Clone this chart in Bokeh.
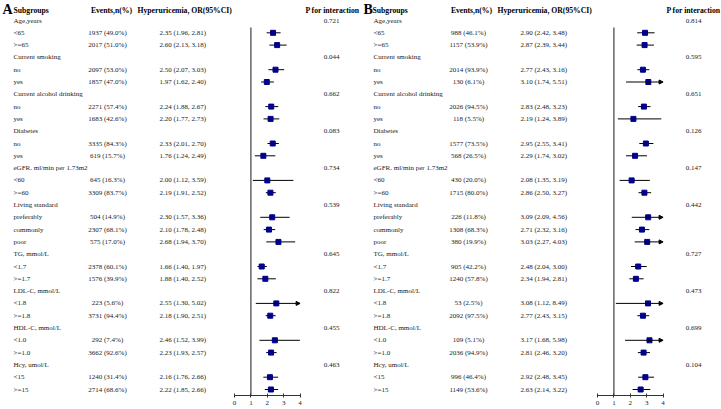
from bokeh.plotting import figure
from bokeh.layouts import row
from bokeh.models import (ColumnDataSource, Range1d, LinearAxis, FixedTicker,
                          Arrow, NormalHead)
from bokeh.core.properties import value
from bokeh.embed import file_html
from bokeh.resources import INLINE

# ---------------- data ----------------
categories = ["Age,years", "Current smoking", "Current alcohol drinking", "Diabetes",
              "eGFR. ml/min per 1.73m2", "Living standard", "TG, mmol/L",
              "LDL-C, mmol/L", "HDL-C, mmol/L", "Hcy, umol/L"]
levels = [["<65", ">=65"], ["no", "yes"], ["no", "yes"], ["no", "yes"],
          ["<60", ">=60"], ["preferably", "commonly", "poor"], ["<1.7", ">=1.7"],
          ["<1.8", ">=1.8"], ["<1.0", ">=1.0"], ["<15", ">=15"]]

A_n = [1937, 2017, 2097, 1857, 2271, 1683, 3335, 619, 645, 3309, 504, 2307, 575,
       2378, 1576, 223, 3731, 292, 3662, 1240, 2714]
A_pct = [49.0, 51.0, 53.0, 47.0, 57.4, 42.6, 84.3, 15.7, 16.3, 83.7, 14.9, 68.1, 17.0,
         60.1, 39.9, 5.6, 94.4, 7.4, 92.6, 31.4, 68.6]
A_or = [2.35, 2.60, 2.50, 1.97, 2.24, 2.20, 2.33, 1.76, 2.00, 2.19, 2.30, 2.10, 2.68,
        1.66, 1.88, 2.55, 2.18, 2.46, 2.23, 2.16, 2.22]
A_lo = [1.96, 2.13, 2.07, 1.62, 1.88, 1.77, 2.01, 1.24, 1.12, 1.91, 1.57, 1.78, 1.94,
        1.40, 1.40, 1.30, 1.90, 1.52, 1.93, 1.76, 1.85]
A_hi = [2.81, 3.18, 3.03, 2.40, 2.67, 2.73, 2.70, 2.49, 3.59, 2.52, 3.36, 2.48, 3.70,
        1.97, 2.52, 5.02, 2.51, 3.99, 2.57, 2.66, 2.66]
A_p = ["0.721", "0.044", "0.662", "0.083", "0.734", "0.539", "0.645", "0.822", "0.455", "0.463"]

B_n = [988, 1157, 2014, 130, 2026, 118, 1577, 568, 430, 1715, 226, 1308, 380,
       905, 1240, 53, 2092, 109, 2036, 996, 1149]
B_pct = [46.1, 53.9, 93.9, 6.1, 94.5, 5.5, 73.5, 26.5, 20.0, 80.0, 11.8, 68.3, 19.9,
         42.2, 57.8, 2.5, 97.5, 5.1, 94.9, 46.4, 53.6]
B_or = [2.90, 2.87, 2.77, 3.10, 2.83, 2.19, 2.95, 2.29, 2.08, 2.86, 3.09, 2.71, 3.03,
        2.48, 2.34, 3.08, 2.77, 3.17, 2.81, 2.92, 2.63]
B_lo = [2.42, 2.39, 2.43, 1.74, 2.48, 1.24, 2.55, 1.74, 1.35, 2.50, 2.09, 2.32, 2.27,
        2.04, 1.94, 1.12, 2.43, 1.68, 2.46, 2.48, 2.14]
B_hi = [3.48, 3.44, 3.16, 5.51, 3.23, 3.89, 3.41, 3.02, 3.19, 3.27, 4.56, 3.16, 4.03,
        3.00, 2.81, 8.49, 3.15, 5.98, 3.20, 3.45, 3.22]
B_p = ["0.814", "0.595", "0.651", "0.126", "0.147", "0.442", "0.727", "0.473", "0.699", "0.104"]

headers = ["Subgroups", "Events,n(%)", "Hyperuricemia, OR(95%CI)", "P for interaction"]
axis_ticks = [0, 1, 2, 3, 4]
AXIS_MAX = 4

FONT = value("Liberation Serif")
TXT = "#1a1a1a"

H = 409
ROW0 = 20.0      # pixel y of first row
SP = 12.3        # pixel spacing of rows
BOTTOM_BORDER = 14


def make_panel(letter, n, pct, orv, lo, hi, pvals, width, pos):
    y_top = (0 - ROW0) / SP
    y_bot = (H - BOTTOM_BORDER - ROW0) / SP
    scale = 16.4
    p = figure(width=width, height=H, output_backend="svg", toolbar_location=None,
               x_axis_type=None, y_axis_type=None,
               x_range=Range1d(0, width), y_range=Range1d(y_bot, y_top),
               min_border_left=0, min_border_right=0, min_border_top=0,
               min_border_bottom=BOTTOM_BORDER, outline_line_color=None,
               background_fill_color="white", border_fill_color="white")
    p.grid.visible = False
    x0 = pos["or0"]
    p.extra_x_ranges = {"or": Range1d(-x0 / scale, (width - x0) / scale)}

    lab, laby = [], []
    ev, evy = [], []
    ort, ory = [], []
    pv, pvy = [], []
    fx, fy, flo, fhi = [], [], [], []
    ax0, ax1, ay = [], [], []
    r = 0
    k = 0
    for ci, cat in enumerate(categories):
        lab.append(cat); laby.append(r)
        pv.append(pvals[ci]); pvy.append(r)
        r += 1
        for lv in levels[ci]:
            lab.append(lv); laby.append(r)
            ev.append(f"{n[k]} ({pct[k]:.1f}%)"); evy.append(r)
            ort.append(f"{orv[k]:.2f} ({lo[k]:.2f}, {hi[k]:.2f})"); ory.append(r)
            fx.append(orv[k]); fy.append(r)
            if hi[k] > AXIS_MAX:
                ax0.append(lo[k]); ax1.append(AXIS_MAX); ay.append(r)
                flo.append(lo[k]); fhi.append(lo[k])
            else:
                flo.append(lo[k]); fhi.append(hi[k])
            r += 1
            k += 1

    hy = (9.5 - ROW0) / SP
    ly = (9.0 - ROW0) / SP
    p.text(x=[pos["letter"]], y=[ly], text=[letter], text_font=FONT,
           text_font_size="14px", text_font_style="bold", text_baseline="middle",
           text_color="black")
    hkw = dict(text_font=FONT, text_font_size="7.7px", text_font_style="bold",
               text_baseline="middle", text_color="black")
    p.text(x=[pos["h_sub"]], y=[hy], text=[headers[0]], **hkw)
    p.text(x=[pos["h_ev"]], y=[hy], text=[headers[1]], text_align="center", **hkw)
    p.text(x=[pos["h_or"]], y=[hy], text=[headers[2]], **hkw)
    p.text(x=[pos["h_p"]], y=[hy], text=[headers[3]], text_align="center", **hkw)

    tkw = dict(text_font=FONT, text_font_size="7px", text_baseline="middle", text_color=TXT)
    p.text(x=pos["lab"], y="y", text="t", source=ColumnDataSource(dict(y=laby, t=lab)), **tkw)
    p.text(x=pos["ev"], y="y", text="t", source=ColumnDataSource(dict(y=evy, t=ev)),
           text_align="center", **tkw)
    p.text(x=pos["or"], y="y", text="t", source=ColumnDataSource(dict(y=ory, t=ort)), **tkw)
    p.text(x=pos["p"], y="y", text="t", source=ColumnDataSource(dict(y=pvy, t=pv)),
           text_align="center", **tkw)

    # reference line at OR = 1
    p.segment(x0=[1], y0=[0.57], x1=[1], y1=[y_bot], x_range_name="or",
              line_color="#4d4d4d", line_width=1.3)
    # CI lines
    p.segment(x0="lo", y0="y", x1="hi", y1="y", x_range_name="or",
              source=ColumnDataSource(dict(lo=flo, hi=fhi, y=fy)),
              line_color="black", line_width=1)
    if ax0:
        p.add_layout(Arrow(end=NormalHead(size=4, fill_color="black", line_color="black",
                                          line_width=1),
                           x_start="x0", y_start="y", x_end="x1", y_end="y",
                           source=ColumnDataSource(dict(x0=ax0, x1=ax1, y=ay)),
                           x_range_name="or", line_color="black", line_width=1))
    p.scatter(x="x", y="y", source=ColumnDataSource(dict(x=fx, y=fy)), marker="square",
              size=5, fill_color="#00008B", line_color="#00008B", x_range_name="or")

    ax = LinearAxis(x_range_name="or", bounds=(0, AXIS_MAX),
                    ticker=FixedTicker(ticks=axis_ticks),
                    major_tick_in=2, major_tick_out=2, minor_tick_in=0, minor_tick_out=0,
                    major_label_standoff=3, major_label_text_font="Liberation Serif",
                    major_label_text_font_size="7px", major_label_text_color=TXT,
                    axis_line_color="#333333", major_tick_line_color="#333333")
    p.add_layout(ax, "below")
    return p


posA = dict(letter=2, h_sub=13, h_ev=111, h_or=137, h_p=332,
            lab=13, ev=107, p=331, or0=234)
posA["or"] = 159
posB = dict(letter=3, h_sub=12, h_ev=111, h_or=137, h_p=333,
            lab=13, ev=108, p=333, or0=237)
posB["or"] = 160

pA = make_panel("A", A_n, A_pct, A_or, A_lo, A_hi, A_p, 360, posA)
pB = make_panel("B", B_n, B_pct, B_or, B_lo, B_hi, B_p, 361, posB)

layout = row(pA, pB, spacing=0)
open("out.html", "w").write(file_html(layout, INLINE))
